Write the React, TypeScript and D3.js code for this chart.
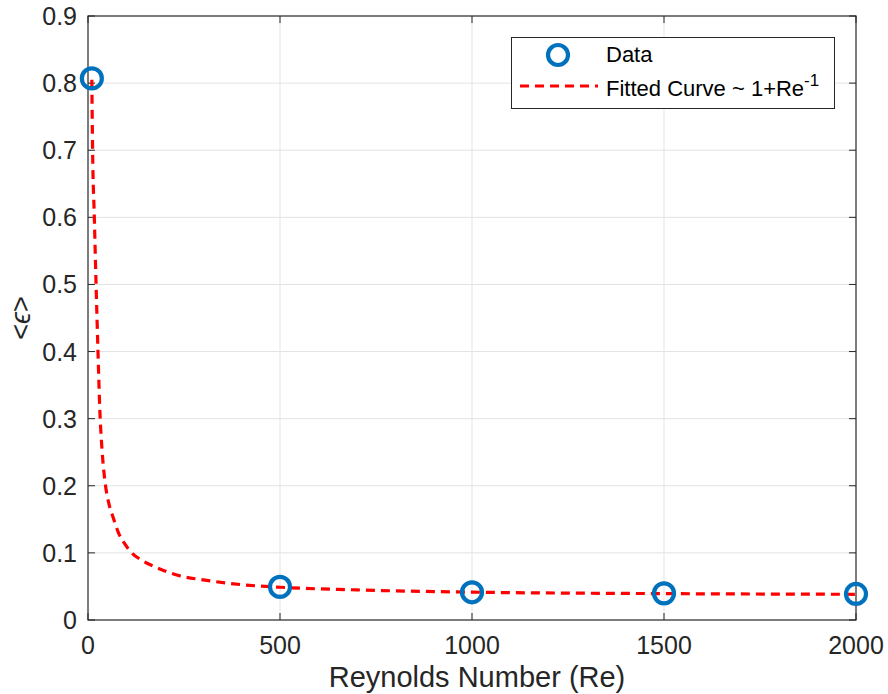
import React from "react";
import * as d3 from "d3";

const dataRe = [10, 500, 1000, 1500, 2000];
const dataEps = [0.807, 0.0493, 0.0413, 0.0397, 0.0388];

const fitRe = [10, 12, 16.5, 21, 26, 31, 37, 45, 55, 66, 80, 95, 114, 140, 179, 231, 300, 413, 500, 700, 1000, 1500, 2000];
const fitEps = [0.805, 0.7, 0.6, 0.5, 0.4, 0.31, 0.25, 0.203, 0.172, 0.152, 0.129, 0.114, 0.1, 0.089, 0.078, 0.067, 0.0598, 0.052, 0.0488, 0.0448, 0.0415, 0.0393, 0.0383];

const xTicks = [0, 500, 1000, 1500, 2000];
const yTicks = [0, 0.1, 0.2, 0.3, 0.4, 0.5, 0.6, 0.7, 0.8, 0.9];

const W = 888, H = 694;
const L = 88, R = 856, T = 16, B = 620;
const AX = "#262626";
const GRID = "#e3e3e3";
const BLUE = "#0072BD";
const RED = "#FF0000";
const FONT = "'Liberation Sans', Arial, Helvetica, sans-serif";

export default function App() {
  const x = d3.scaleLinear().domain([0, 2000]).range([L, R]);
  const y = d3.scaleLinear().domain([0, 0.9]).range([B, T]);
  const fitPts: [number, number][] = fitRe.map((r, i) => [r, fitEps[i]]);
  const line = d3
    .line<[number, number]>()
    .x((d) => x(d[0]))
    .y((d) => y(d[1]))
    .curve(d3.curveMonotoneX);
  const tl = 7;

  return (
    <svg width={W} height={H} style={{ position: "absolute", left: 0, top: 0, background: "#fff" }} fontFamily={FONT}>
      <rect x={0} y={0} width={W} height={H} fill="#fff" />
      {/* grid */}
      {xTicks.slice(1, -1).map((t) => (
        <line key={"gx" + t} x1={x(t)} x2={x(t)} y1={T} y2={B} stroke={GRID} strokeWidth={1} />
      ))}
      {yTicks.slice(1, -1).map((t) => (
        <line key={"gy" + t} x1={L} x2={R} y1={y(t)} y2={y(t)} stroke={GRID} strokeWidth={1} />
      ))}
      {/* ticks */}
      {xTicks.map((t) => (
        <g key={"tx" + t}>
          <line x1={x(t)} x2={x(t)} y1={B} y2={B - tl} stroke={AX} strokeWidth={1} />
          <line x1={x(t)} x2={x(t)} y1={T} y2={T + tl} stroke={AX} strokeWidth={1} />
          <text x={x(t)} y={654} textAnchor="middle" fontSize={25} fill={AX}>
            {t}
          </text>
        </g>
      ))}
      {yTicks.map((t) => (
        <g key={"ty" + t}>
          <line x1={L} x2={L + tl} y1={y(t)} y2={y(t)} stroke={AX} strokeWidth={1} />
          <line x1={R} x2={R - tl} y1={y(t)} y2={y(t)} stroke={AX} strokeWidth={1} />
          <text x={77} y={y(t) + 9} textAnchor="end" fontSize={25} fill={AX}>
            {t === 0 ? "0" : t.toFixed(1)}
          </text>
        </g>
      ))}
      {/* box */}
      <rect x={L} y={T} width={R - L} height={B - T} fill="none" stroke={AX} strokeWidth={1.2} />
      {/* fitted curve */}
      <path d={line(fitPts) || ""} fill="none" stroke={RED} strokeWidth={3.2} strokeDasharray="9 6" />
      {/* data */}
      {dataRe.map((r, i) => (
        <circle key={"d" + i} cx={x(r)} cy={y(dataEps[i])} r={10} fill="none" stroke={BLUE} strokeWidth={4.2} />
      ))}
      {/* axis labels */}
      <text x={(L + R) / 2 + 5} y={687} textAnchor="middle" fontSize={29} fill={AX}>
        Reynolds Number (Re)
      </text>
      <text transform={`translate(30, ${(T + B) / 2}) rotate(-90)`} textAnchor="middle" fontSize={27} fill={AX}>
        &lt;<tspan fontStyle="italic">ϵ</tspan>&gt;
      </text>
      {/* legend */}
      <rect x={511.5} y={37.5} width={323} height={71} fill="#fff" stroke={AX} strokeWidth={1} />
      <circle cx={558} cy={55} r={10} fill="none" stroke={BLUE} strokeWidth={4.2} />
      <text x={606} y={62} fontSize={22} fill="#000">Data</text>
      <line x1={520} x2={598} y1={86} y2={86} stroke={RED} strokeWidth={3.2} strokeDasharray="9 6" />
      <text x={606} y={96} fontSize={22} fill="#000">
        Fitted Curve ~ 1+Re
        <tspan dy={-10} fontSize={17}>-1</tspan>
      </text>
    </svg>
  );
}
